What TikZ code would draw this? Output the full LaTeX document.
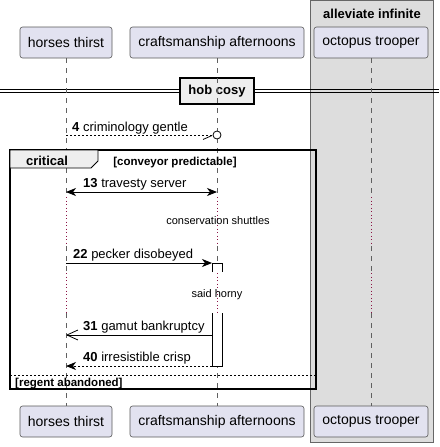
\documentclass[tikz,border=0pt]{standalone}
\usepackage{fontspec}
\setmainfont{Liberation Sans}
\usetikzlibrary{arrows.meta}

\definecolor{partfill}{HTML}{E2E2F0}
\definecolor{boxfill}{HTML}{DDDDDD}
\definecolor{tabfill}{HTML}{EEEEEE}
\definecolor{delayred}{HTML}{8C1446}

\begin{document}
\begin{tikzpicture}[x=1pt, y=-1pt, every node/.style = {inner sep=0pt, font=\fontsize{13}{15}\selectfont},
    part/.style = {shape=rectangle, rounded corners=2.5pt, draw=gray!70!black, line width=0.6pt, fill=partfill, minimum height=31pt, font=\fontsize{14}{16}\selectfont},
    life/.style = {draw=gray!75!black, line width=0.5pt, dash pattern=on 5pt off 5pt},
    delay/.style = {draw=delayred, line width=0.8pt, dash pattern=on 0.9pt off 2.6pt},
    msg/.style = {line width=0.8pt},
    head/.style = {font=\fontsize{11.5}{13}\selectfont\bfseries},
    note/.style = {font=\fontsize{11}{13}\selectfont},
    >={Stealth[length=10pt, width=8pt, inset=3pt]}]
            \useasboundingbox (0,0) rectangle (439,447);
            \draw[draw=gray!80!black, line width=0.6pt, fill=boxfill] (310,0.3) rectangle (433,442);
            \node[font=\fontsize{13}{15}\selectfont\bfseries, anchor=base] (box) at (372,18.5) {alleviate infinite};

            \draw[line width=0.8pt] (0,89) -- (439,89) (0,92.5) -- (439,92.5);
            \node[draw, line width=1.5pt, fill=tabfill, minimum width=74pt, minimum height=26pt, font=\fontsize{13}{15}\selectfont\bfseries] (cosy) at (217,91) {hob cosy};

            \node[part, minimum width=92pt] (ht) at (66,42.5) {horses thirst};
            \node[part, minimum width=174pt] (ca) at (217,42.5) {craftsmanship afternoons};
            \node[part, minimum width=114pt] (ot) at (371,42.5) {octopus trooper};
            \node[part, minimum width=92pt] (hb) at (66,421.5) {horses thirst};
            \node[part, minimum width=174pt] (cb) at (217,421.5) {craftsmanship afternoons};
            \node[part, minimum width=114pt] (ob) at (371,421.5) {octopus trooper};

            \coordinate (d1a) at (0,197);
            \coordinate (d1b) at (0,246);
            \coordinate (d2a) at (0,273);
            \coordinate (d2b) at (0,313);
            \foreach \p/\q in {ht/hb, ca/cb, ot/ob} {
                \draw[life] (\p.south) -- (\p |- d1a);
                \draw[delay] (\p |- d1a) -- (\p |- d1b);
                \draw[life] (\p |- d1b) -- (\p |- d2a);
                \draw[delay] (\p |- d2a) -- (\p |- d2b);
                \draw[life] (\p |- d2b) -- (\q.north);
            }

            \draw[line width=1.5pt] (10,150) rectangle (316,389);
            \draw[line width=0.8pt, fill=tabfill] (10,150) -- (98,150) -- (98,161) -- (91,168) -- (10,168) -- cycle;
            \node[font=\fontsize{13}{15}\selectfont\bfseries, anchor=base] (crit) at (47,165) {critical};
            \node[head, anchor=base] (cond) at (175,165) {[conveyor predictable]};
            \draw[line width=0.6pt, dash pattern=on 2pt off 2pt] (10,375) -- (316,375);
            \node[head, anchor=base west] (alt) at (15,386) {[regent abandoned]};

            \coordinate (m4) at (0,135);
            \coordinate (m13) at (0,192);
            \coordinate (m22) at (0,263);
            \coordinate (m31) at (0,335);
            \coordinate (m40) at (0,366);

            \draw[msg, dash pattern=on 2pt off 2pt] (ht |- m4) -- ([xshift=-4pt]ca |- m4);
            \draw[msg] ([shift={(-14,4.5)}]ca |- m4) -- ([shift={(-5,0.5)}]ca |- m4);
            \draw[msg, fill=white] (ca |- m4) circle (4pt);
            \node[anchor=base west] (l4) at (72,131) {\textbf{4} criminology gentle};

            \draw[msg, <->] (ht |- m13) -- (ca |- m13);
            \node[anchor=base west] (l13) at (83,187) {\textbf{13} travesty server};

            \node[note, anchor=base] (shuttles) at (218,224.5) {conservation shuttles};

            \draw[fill=white, line width=0.8pt] (212,272) -- (212,263) -- (222,263) -- (222,272);
            \draw[fill=white, line width=0.8pt] (212,313) -- (212,366) -- (222,366) -- (222,313);
            \draw[msg, ->] (ht |- m22) -- ([xshift=-5pt]ca |- m22);
            \node[anchor=base west] (l22) at (73,258) {\textbf{22} pecker disobeyed};

            \node[note, anchor=base] (horny) at (217,297) {said horny};

            \draw[msg, -{Straight Barb[length=11pt, width=10pt]}] ([xshift=-5pt]ca |- m31) -- (ht |- m31);
            \node[anchor=base west] (l31) at (83,330.5) {\textbf{31} gamut bankruptcy};

            \draw[msg, dash pattern=on 2pt off 2pt, ->] ([xshift=-5pt]ca |- m40) -- (ht |- m40);
            \node[anchor=base west] (l40) at (83,361) {\textbf{40} irresistible crisp};
        \end{tikzpicture}
\end{document}
